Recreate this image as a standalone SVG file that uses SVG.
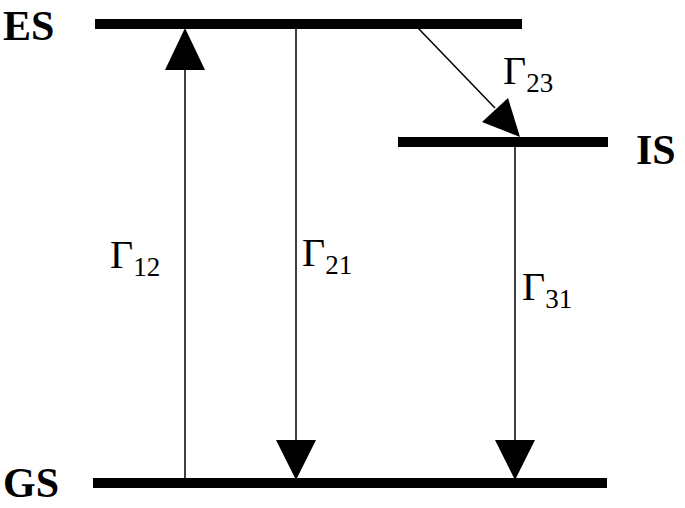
<svg xmlns="http://www.w3.org/2000/svg" width="685" height="508" viewBox="0 0 685 508">
<style>
.lvl{stroke:#000;stroke-width:10}
.con{stroke:#000;stroke-width:1.5;fill:none}
.lab{font-family:"Liberation Serif",serif;font-weight:bold;font-size:42px}
.g{font-family:"Liberation Serif",serif;font-size:40px}
.s{font-size:27px}
</style>
<rect width="685" height="508" fill="#fff"/>
<g id="ES"><line class="lvl" x1="95" y1="24" x2="522" y2="24"/><text class="lab" x="3" y="40">ES</text></g>
<g id="IS"><line class="lvl" x1="398" y1="142" x2="608" y2="142"/><text class="lab" x="636" y="164">IS</text></g>
<g id="GS"><line class="lvl" x1="93" y1="483" x2="607" y2="483"/><text class="lab" x="3" y="497">GS</text></g>
<g id="connectors">
<line class="con" x1="185" y1="480" x2="185" y2="70"/>
<path d="M165,70 L185,28 L205,70 Z"/>
<line class="con" x1="296" y1="28" x2="296" y2="440"/>
<path d="M276,440 L296,480 L316,440 Z"/>
<line class="con" x1="418" y1="28" x2="495" y2="108"/>
<path d="M482,122 L520,137 L508,98 Z"/>
<line class="con" x1="515" y1="146" x2="515" y2="440"/>
<path d="M495,440 L515,480 L535,440 Z"/>
</g>
<g id="labels">
<text class="g" x="110" y="268">Γ<tspan class="s" dy="8">12</tspan></text>
<text class="g" x="302" y="266">Γ<tspan class="s" dy="8">21</tspan></text>
<text class="g" x="503" y="84">Γ<tspan class="s" dy="8">23</tspan></text>
<text class="g" x="522" y="300">Γ<tspan class="s" dy="8">31</tspan></text>
</g>
</svg>
